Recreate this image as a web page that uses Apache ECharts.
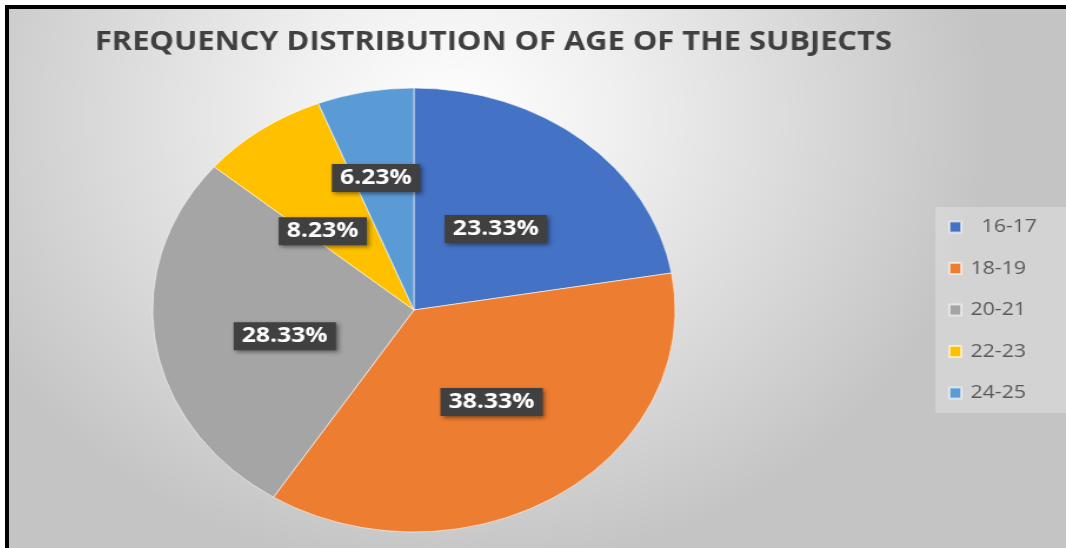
<!DOCTYPE html>
<html>
<head>
<meta charset="utf-8">
<script src="https://cdn.jsdelivr.net/npm/echarts@6/dist/echarts.min.js"></script>
<style>
  html, body { margin: 0; padding: 0; background: #ffffff; width: 1066px; height: 548px; overflow: hidden; }
  #frame { position: absolute; left: 5px; top: 5px; width: 1061px; height: 543px;
           border-top: 4px solid #000; border-left: 4px solid #000; box-sizing: border-box; overflow: hidden; }
  #chart { position: absolute; left: 0; top: 0; width: 898px; height: 539px;
           transform: scaleX(1.177); transform-origin: 0 0; }
</style>
</head>
<body>
<div id="frame"><div id="chart"></div></div>
<script>
const titleText = 'FREQUENCY DISTRIBUTION OF AGE OF THE SUBJECTS';
const categories = ['16-17', '18-19', '20-21', '22-23', '24-25'];
const percentages = [23.33, 38.33, 28.33, 8.23, 6.23];
const colors = ['#4472C4', '#ED7D31', '#A5A5A5', '#FFC000', '#5B9BD5'];
// small label nudges (chart px) so labels sit where the reference places them
const labelNudge = [[-4, 6], [3, -3], [3, 9], [-11, 14], [-11, -20]];

const chart = echarts.init(document.getElementById('chart'), null, { renderer: 'canvas' });
chart.setOption({
  backgroundColor: {
    type: 'radial', x: 0.42, y: 0.2, r: 0.85,
    colorStops: [
      { offset: 0, color: '#ffffff' },
      { offset: 0.3, color: '#f0f0f0' },
      { offset: 1, color: '#c4c4c4' }
    ]
  },
  animation: false,
  color: colors,
  title: {
    text: titleText,
    left: 73,
    top: 21,
    padding: 0,
    textStyle: { fontFamily: 'Open Sans', fontWeight: 'bold', fontSize: 26.2, color: '#404040' }
  },
  legend: {
    orient: 'vertical',
    left: 787,
    top: 198,
    padding: [11, 30, 11, 11],
    backgroundColor: 'rgba(255,255,255,0.25)',
    itemWidth: 10,
    itemHeight: 11,
    itemGap: 23.5,
    icon: 'rect',
    formatter: function (name) { return name === categories[0] ? '  ' + name : name; },
    textStyle: { fontFamily: 'Open Sans', fontSize: 18, color: '#595959', lineHeight: 18, padding: [0, 0, 0, 3] },
    data: categories
  },
  series: [{
    type: 'pie',
    center: [344, 301],
    radius: 222,
    startAngle: 90,
    clockwise: true,
    silent: true,
    avoidLabelOverlap: false,
    itemStyle: { borderColor: 'rgba(255,255,255,0.6)', borderWidth: 1 },
    label: {
      show: true,
      position: 'inside',
      formatter: function (p) { return percentages[p.dataIndex].toFixed(2) + '%'; },
      color: '#ffffff',
      fontFamily: 'Open Sans',
      fontWeight: 'bold',
      fontSize: 21,
      backgroundColor: '#404040',
      padding: [4, 7, 3, 7],
      shadowColor: 'rgba(0,0,0,0.45)',
      shadowBlur: 4,
      shadowOffsetX: 2,
      shadowOffsetY: 2
    },
    labelLine: { show: false },
    labelLayout: function (p) {
      return { hideOverlap: false, dx: labelNudge[p.dataIndex][0], dy: labelNudge[p.dataIndex][1] };
    },
    data: categories.map(function (c, i) { return { name: c, value: percentages[i] }; })
  }]
});
</script>
</body>
</html>
